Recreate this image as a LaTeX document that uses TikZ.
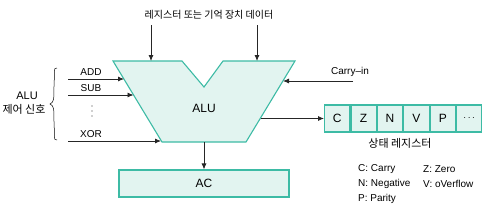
\documentclass[tikz,border=0pt]{standalone}
\usepackage{fontspec}
\setmainfont{Liberation Sans}
\newfontfamily\kr{Noto Sans CJK KR}
\usetikzlibrary{arrows.meta}
\definecolor{tealb}{HTML}{3DBBA5}
\definecolor{mint}{HTML}{E2F4F0}
\begin{document}
\begin{tikzpicture}[x=1pt,y=-1pt,
  font=\fontsize{10}{12}\selectfont,
  arr/.style={draw=black!85,line width=0.8pt,-{Latex[length=6pt,width=5pt]}},
  boxsty/.style={draw=tealb,fill=mint,line width=1.1pt},
  big/.style={font=\fontsize{12}{14}\selectfont},
  krm/.style={font=\fontsize{11}{13}\selectfont\kr},
  cell/.style={boxsty,big,minimum width=25.3pt,minimum height=27pt,inner sep=0pt,anchor=west},
  lbl/.style={inner sep=0pt}]
\useasboundingbox (0,0) rectangle (490,212);
% ALU shape
\draw[boxsty,line join=miter] (113,61) -- (182,61) -- (204,87) -- (223,61) -- (295,61) -- (246,142) -- (162,142) -- cycle;
\node[lbl,big] (alu) at (204,108) {ALU};
\coordinate (alutl) at (151,61);
\coordinate (alutr) at (257,61);
\coordinate (alub) at (204,142);
% top text
\node[lbl] (top) at (209,15) {\kr 레지스터 또는 기억 장치 데이터};
\coordinate (t1) at (151,25);
\coordinate (t2) at (257,25);
\draw[arr] (t1) -- (alutl);
\draw[arr] (t2) -- (alutr);
% left signals
\coordinate (a0) at (68,79);  \coordinate (a1) at (124,79);
\coordinate (s0) at (68,95);  \coordinate (s1) at (133.5,95);
\coordinate (x0) at (68,141); \coordinate (x1) at (161,141);
\draw[arr] (a0) -- (a1);
\draw[arr] (s0) -- (s1);
\draw[arr] (x0) -- (x1);
\node[lbl] (add) at (91,72) {ADD};
\node[lbl] (sub) at (91,88) {SUB};
\foreach \yy in {106,111,116} \fill[black!80] (92,\yy) circle (0.55pt);
\node[lbl] (xor) at (91,134) {XOR};
\draw[line width=0.5pt] (57,68) .. controls (53,68) and (55,70) .. (54,85) .. controls (54,100) and (54,102) .. (50,104)
  .. controls (54,106) and (54,108) .. (54,123) .. controls (55,138) and (53,140) .. (57,140);
\node[lbl,font=\fontsize{11}{13}\selectfont] (cl1) at (27,96) {ALU};
\node[lbl,krm] (cl2) at (24,109) {제어 신호};
% carry-in
\coordinate (c0) at (353,81);
\coordinate (c1) at (283,81);
\draw[arr] (c0) -- (c1);
\node[lbl] (cin) at (350,72) {Carry–in};
% status register
\node[cell] (cC) at (324,118.5) {C};
\node[cell] (cZ) at (cC.east) {Z};
\node[cell] (cN) at (cZ.east) {N};
\node[cell] (cV) at (cN.east) {V};
\node[cell] (cP) at (cV.east) {P};
\node[cell,font=\fontsize{10}{12}\selectfont] (cD) at (cP.east) {$\cdots$};
\coordinate (sr) at (260.5,118.5);
\draw[arr] (sr) -- (cC.west);
\node[lbl,krm] (stat) at (400,143) {상태 레지스터};
% legend
\node[lbl,anchor=west] (lc) at (358,169) {C: Carry};
\node[lbl,anchor=west] (lz) at (423,169) {Z: Zero};
\node[lbl,anchor=west] (ln) at (358,184) {N: Negative};
\node[lbl,anchor=west] (lv) at (423,184) {V: oVerflow};
\node[lbl,anchor=west] (lp) at (358,199) {P: Parity};
% AC
\node[boxsty,big,minimum width=170pt,minimum height=27pt,inner sep=0pt] (ac) at (204,183.5) {AC};
\draw[arr] (alub) -- (ac.north);
\end{tikzpicture}
\end{document}
